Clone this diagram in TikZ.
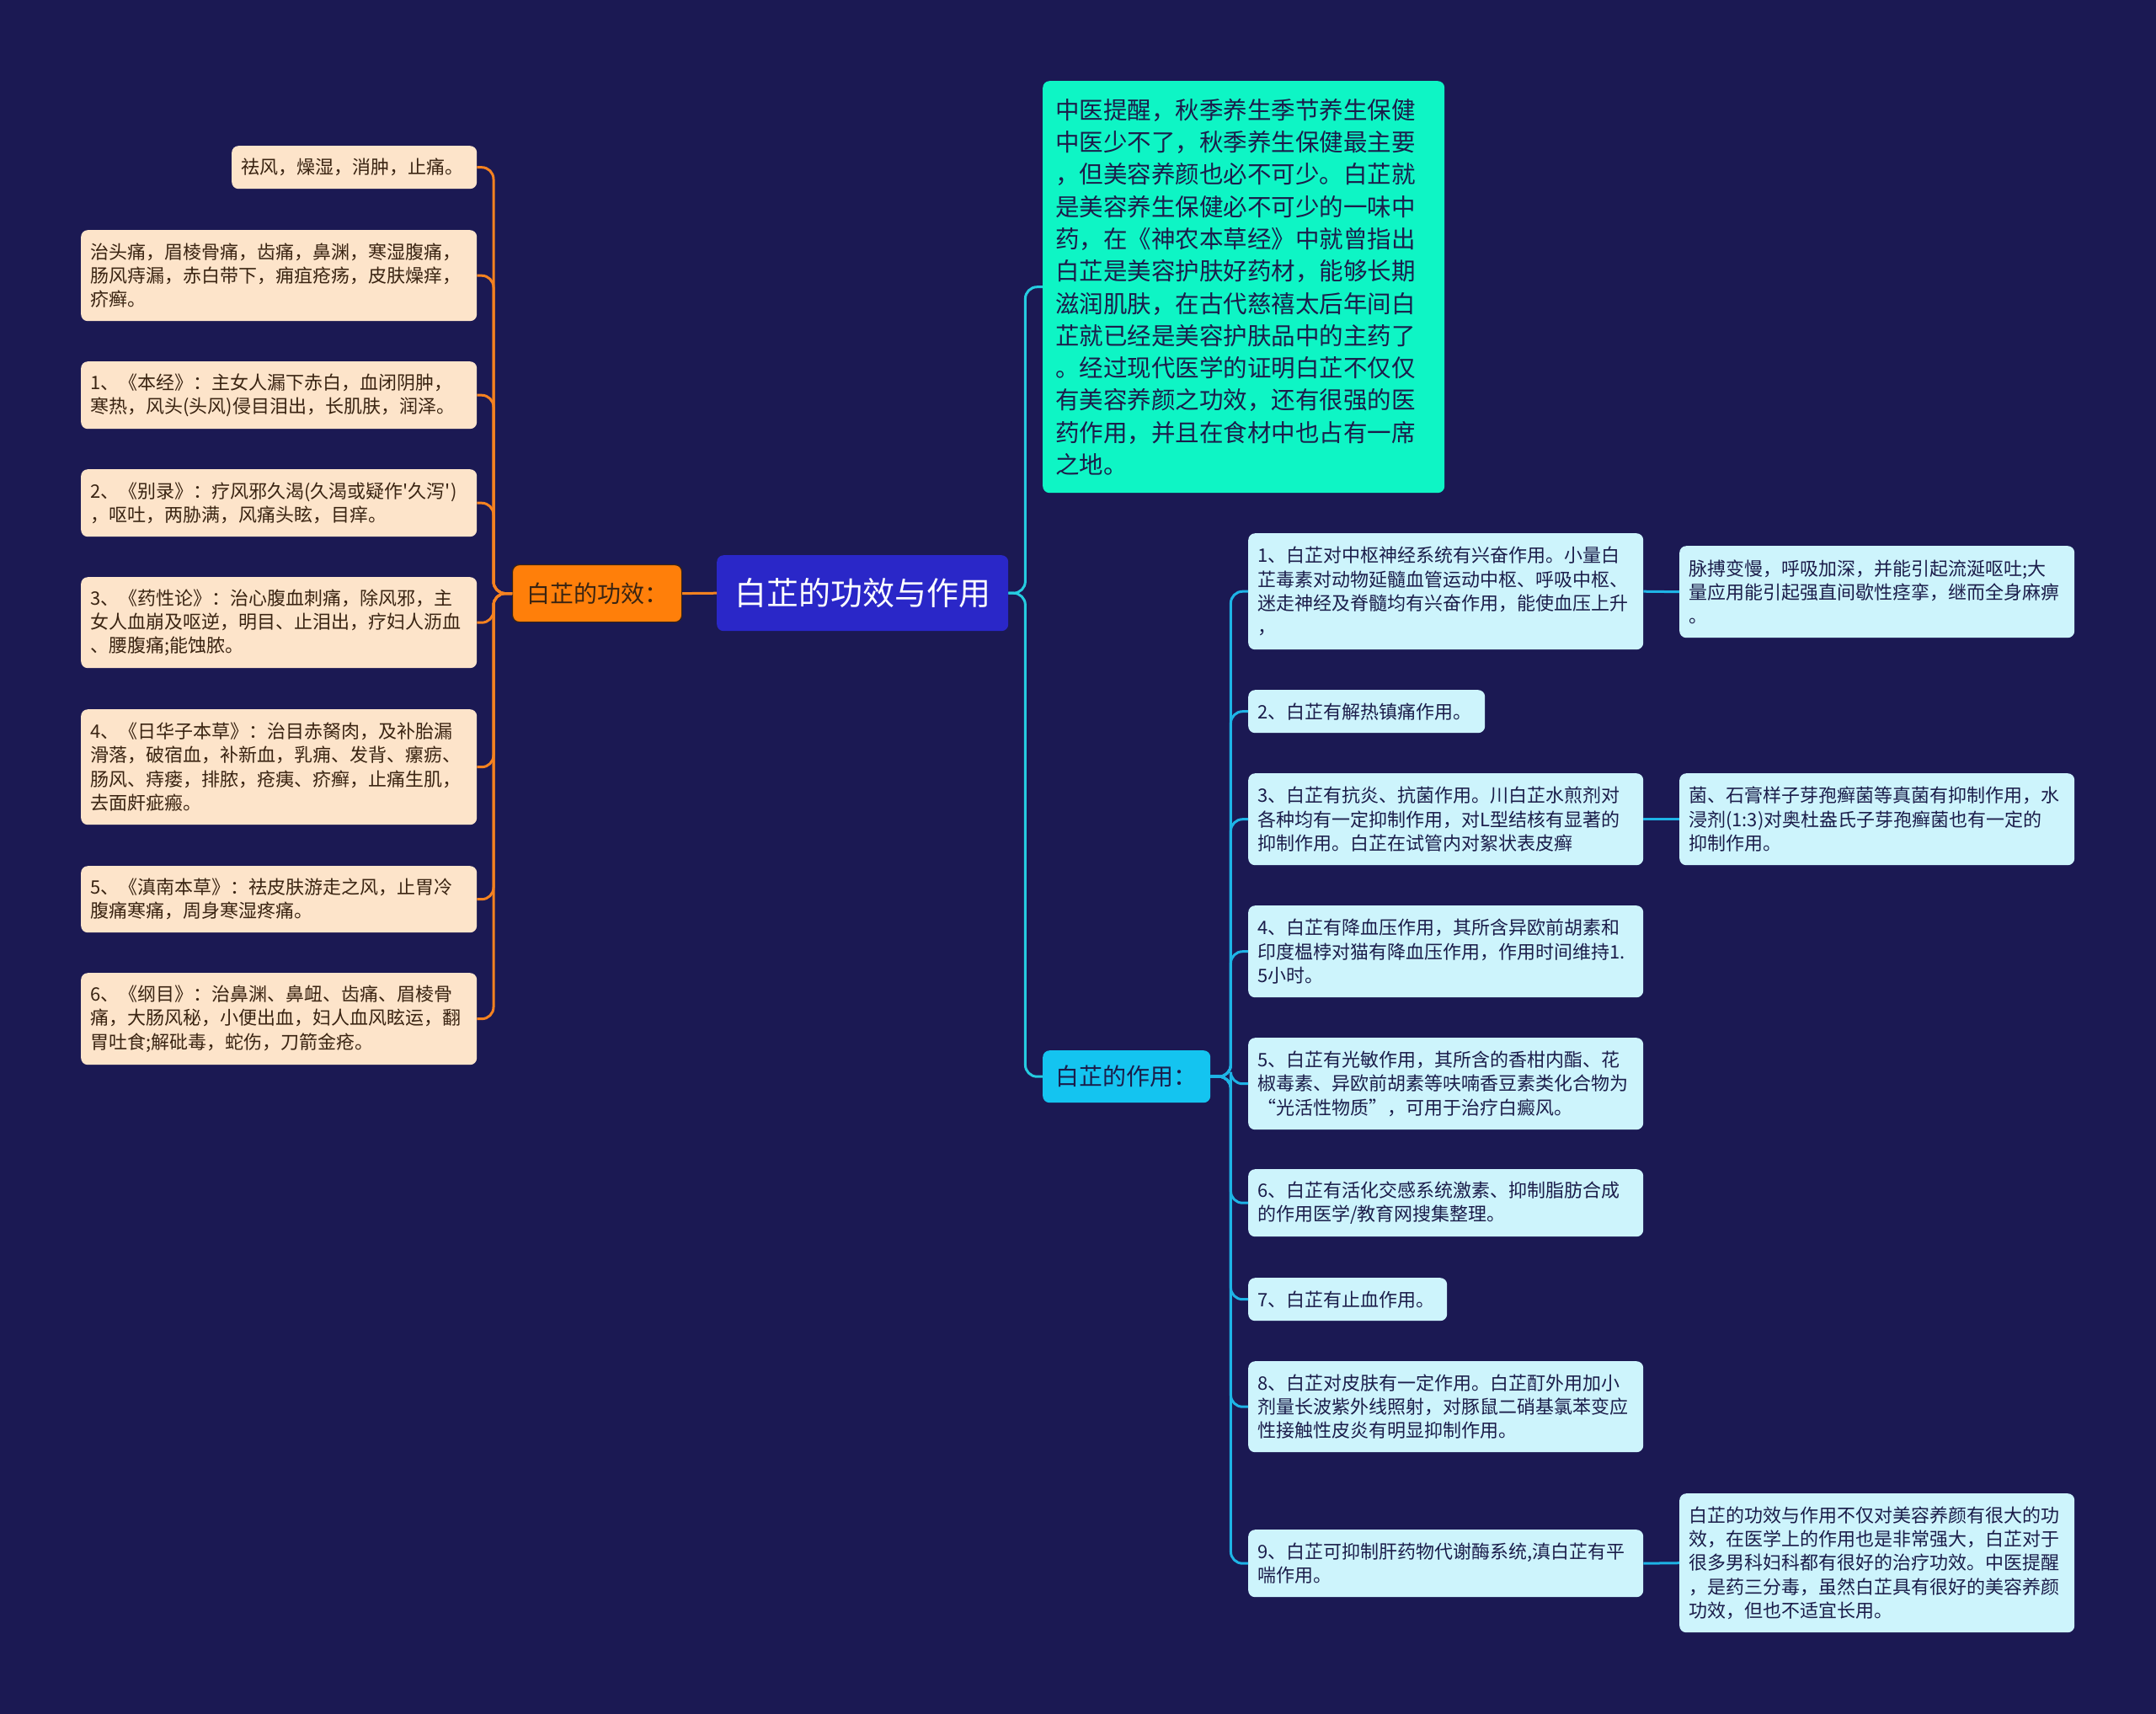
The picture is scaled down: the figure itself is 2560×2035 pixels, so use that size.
\documentclass[tikz,border=0pt]{standalone}
\usepackage{fontspec}
\setmainfont{Noto Sans CJK SC}
\definecolor{bg}{HTML}{1B1953}
\definecolor{peach}{HTML}{FDE4CA}
\definecolor{peachtxt}{HTML}{3A2412}
\definecolor{orng}{HTML}{FF7F0A}
\definecolor{orline}{HTML}{F58220}
\definecolor{cblue}{HTML}{2A27C8}
\definecolor{teal1}{HTML}{0EF5C5}
\definecolor{cyan1}{HTML}{14C4F0}
\definecolor{lcyan}{HTML}{CDF4FC}
\definecolor{navytxt}{HTML}{1B1D4A}
\definecolor{cline}{HTML}{1EB4E6}
\definecolor{tline}{HTML}{25CCE0}
\tikzset{
  base/.style={anchor=north west, rounded corners=8pt, inner xsep=11pt, inner ysep=0pt, align=left},
  lbox/.style={base, fill=peach, text=peachtxt, font=\fontsize{22}{28.3}\selectfont},
  rbox/.style={base, fill=lcyan, text=navytxt, font=\fontsize{22}{28.3}\selectfont},
  oc/.style={draw=orline, line width=3pt, rounded corners=14pt},
  bc/.style={draw=tline, line width=3pt, rounded corners=14pt},
  cc/.style={draw=cline, line width=3pt, rounded corners=14pt},
}
\begin{document}
\begin{tikzpicture}[x=1pt,y=-1pt]
\fill[bg] (0,0) rectangle (2560,2035);
\useasboundingbox (0,0) rectangle (2560,2035);

% centre
\node[anchor=north west, rounded corners=8pt, fill=cblue, text=white, minimum width=346pt, minimum height=90pt, inner sep=0pt, font=\fontsize{38}{44}\selectfont] (C) at (851,659) {白芷的功效与作用};

% left branch
\node[anchor=north west, rounded corners=8pt, fill=orng, draw=peachtxt, line width=1.2pt, text=peachtxt, minimum width=201pt, minimum height=68pt, inner sep=0pt, font=\fontsize{28}{34}\selectfont] (O) at (608,670) {白芷的功效：};

\node[lbox, text width=269pt, minimum height=51pt] (L0) at (275,173) {祛风，燥湿，消肿，止痛。};
\node[lbox, text width=448pt, minimum height=108pt] (L1) at (96,273) {治头痛，眉棱骨痛，齿痛，鼻渊，寒湿腹痛，\\肠风痔漏，赤白带下，痈疽疮疡，皮肤燥痒，\\疥癣。};
\node[lbox, text width=448pt, minimum height=80pt] (L2) at (96,429) {1、《本经》：主女人漏下赤白，血闭阴肿，\\寒热，风头(头风)侵目泪出，长肌肤，润泽。};
\node[lbox, text width=448pt, minimum height=80pt] (L3) at (96,557) {2、《别录》：疗风邪久渴(久渴或疑作\textquotesingle 久泻\textquotesingle)\\，呕吐，两胁满，风痛头眩，目痒。};
\node[lbox, text width=448pt, minimum height=108pt] (L4) at (96,685) {3、《药性论》：治心腹血刺痛，除风邪，主\\女人血崩及呕逆，明目、止泪出，疗妇人沥血\\、腰腹痛;能蚀脓。};
\node[lbox, text width=448pt, minimum height=137pt] (L5) at (96,842) {4、《日华子本草》：治目赤胬肉，及补胎漏\\滑落，破宿血，补新血，乳痈、发背、瘰疬、\\肠风、痔瘘，排脓，疮痍、疥癣，止痛生肌，\\去面皯疵瘢。};
\node[lbox, text width=448pt, minimum height=79pt] (L6) at (96,1028) {5、《滇南本草》：祛皮肤游走之风，止胃冷\\腹痛寒痛，周身寒湿疼痛。};
\node[lbox, text width=448pt, minimum height=109pt] (L7) at (96,1155) {6、《纲目》：治鼻渊、鼻衄、齿痛、眉棱骨\\痛，大肠风秘，小便出血，妇人血风眩运，翻\\胃吐食;解砒毒，蛇伤，刀箭金疮。};

% right branch
\node[anchor=north west, rounded corners=8pt, fill=teal1, text=navytxt, text width=447pt, minimum height=489pt, inner xsep=15pt, inner ysep=0pt, align=left, font=\fontsize{28.5}{38.3}\selectfont] (T) at (1238,96) {中医提醒，秋季养生季节养生保健\\中医少不了，秋季养生保健最主要\\，但美容养颜也必不可少。白芷就\\是美容养生保健必不可少的一味中\\药，在《神农本草经》中就曾指出\\白芷是美容护肤好药材，能够长期\\滋润肌肤，在古代慈禧太后年间白\\芷就已经是美容护肤品中的主药了\\。经过现代医学的证明白芷不仅仅\\有美容养颜之功效，还有很强的医\\药作用，并且在食材中也占有一席\\之地。};

\node[anchor=north west, rounded corners=8pt, fill=cyan1, text=navytxt, minimum width=199pt, minimum height=62pt, inner sep=0pt, font=\fontsize{28}{34}\selectfont] (Z) at (1238,1247) {白芷的作用：};

\node[rbox, text width=447pt, minimum height=138pt] (R1) at (1482,633) {1、白芷对中枢神经系统有兴奋作用。小量白\\芷毒素对动物延髓血管运动中枢、呼吸中枢、\\迷走神经及脊髓均有兴奋作用，能使血压上升\\，};
\node[rbox, text width=447pt, minimum height=109pt] (R1b) at (1994,648) {脉搏变慢，呼吸加深，并能引起流涎呕吐;大\\量应用能引起强直间歇性痉挛，继而全身麻痹\\。};
\node[rbox, text width=259pt, minimum height=51pt] (R2) at (1482,819) {2、白芷有解热镇痛作用。};
\node[rbox, text width=447pt, minimum height=109pt] (R3) at (1482,918) {3、白芷有抗炎、抗菌作用。川白芷水煎剂对\\各种均有一定抑制作用，对L型结核有显著的\\抑制作用。白芷在试管内对絮状表皮癣};
\node[rbox, text width=447pt, minimum height=109pt] (R3b) at (1994,918) {菌、石膏样子芽孢癣菌等真菌有抑制作用，水\\浸剂(1:3)对奥杜盎氏子芽孢癣菌也有一定的\\抑制作用。};
\node[rbox, text width=447pt, minimum height=109pt] (R4) at (1482,1075) {4、白芷有降血压作用，其所含异欧前胡素和\\印度榅桲对猫有降血压作用，作用时间维持1.\\5小时。};
\node[rbox, text width=447pt, minimum height=109pt] (R5) at (1482,1232) {5、白芷有光敏作用，其所含的香柑内酯、花\\椒毒素、异欧前胡素等呋喃香豆素类化合物为\\“光活性物质”，可用于治疗白癜风。};
\node[rbox, text width=447pt, minimum height=80pt] (R6) at (1482,1388) {6、白芷有活化交感系统激素、抑制脂肪合成\\的作用医学/教育网搜集整理。};
\node[rbox, text width=214pt, minimum height=51pt] (R7) at (1482,1517) {7、白芷有止血作用。};
\node[rbox, text width=447pt, minimum height=108pt] (R8) at (1482,1616) {8、白芷对皮肤有一定作用。白芷酊外用加小\\剂量长波紫外线照射，对豚鼠二硝基氯苯变应\\性接触性皮炎有明显抑制作用。};
\node[rbox, text width=447pt, minimum height=80pt] (R9) at (1482,1816) {9、白芷可抑制肝药物代谢酶系统,滇白芷有平\\喘作用。};
\node[rbox, text width=447pt, minimum height=165pt] (R9b) at (1994,1773) {白芷的功效与作用不仅对美容养颜有很大的功\\效，在医学上的作用也是非常强大，白芷对于\\很多男科妇科都有很好的治疗功效。中医提醒\\，是药三分毒，虽然白芷具有很好的美容养颜\\功效，但也不适宜长用。};

% connectors
\draw[oc] (C.west) -- (O.east);
\foreach \n in {L0,L1,L2,L3,L4,L5,L6,L7}
  \draw[oc] (O.west) -- ++(-22,0) |- (\n.east);
\draw[bc] (C.east) -- ++(20,0) |- (T.west);
\draw[bc] (C.east) -- ++(20,0) |- (Z.west);
\foreach \n in {R1,R2,R3,R4,R5,R6,R7,R8,R9}
  \draw[cc] (Z.east) -- ++(24,0) |- (\n.west);
\draw[cc] (R1.east) -- (R1b.west);
\draw[cc] (R3.east) -- (R3b.west);
\draw[cc] (R9.east) -- (R9b.west);
\end{tikzpicture}
\end{document}
